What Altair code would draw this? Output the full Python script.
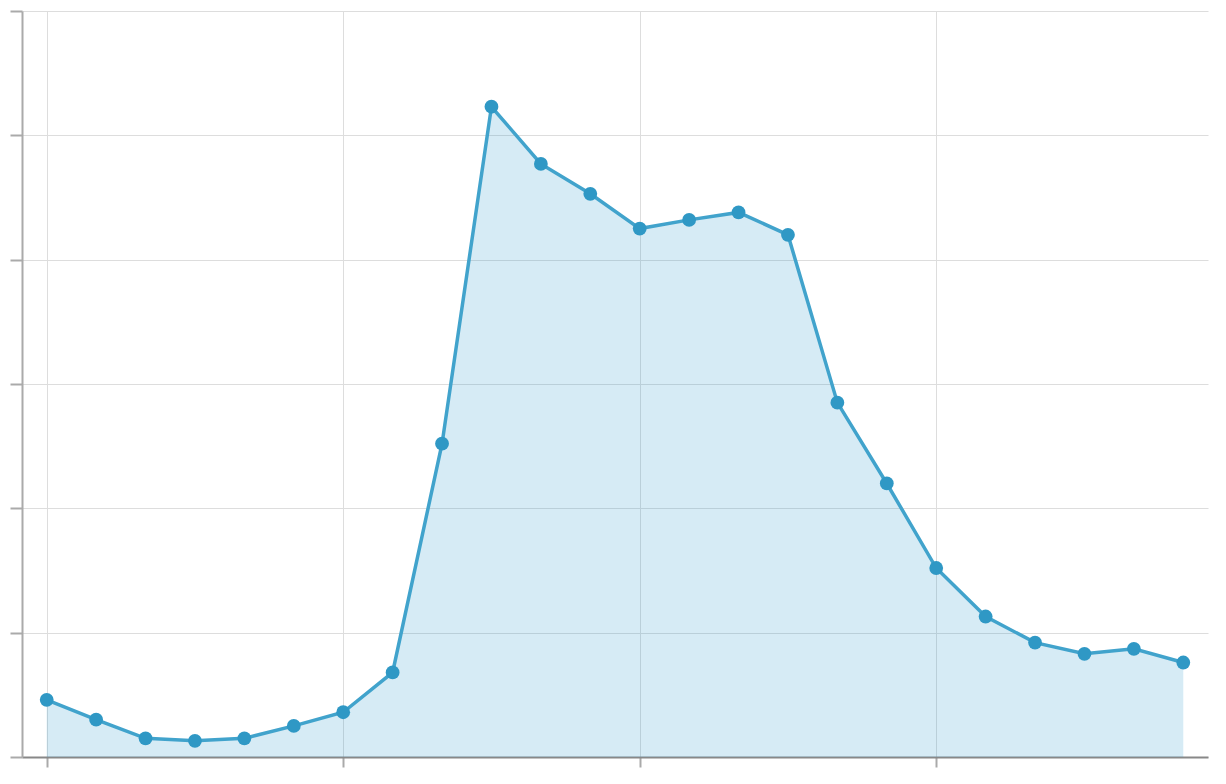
import altair as alt
import pandas as pd

hours = list(range(24))
values = [0.46, 0.30, 0.15, 0.13, 0.15, 0.25, 0.36, 0.68, 2.52, 5.23, 4.77, 4.53,
          4.25, 4.32, 4.38, 4.20, 2.85, 2.20, 1.52, 1.13, 0.92, 0.83, 0.87, 0.76]

df = pd.DataFrame({"hour": hours, "value": values})

x = alt.X("hour:Q", scale=alt.Scale(domain=[-0.5, 23.5], nice=False, zero=False),
          axis=alt.Axis(values=[0, 6, 12, 18], labels=False, title=None, tickSize=10,
                        domainColor="#888", domainWidth=2, tickColor="#aaa", tickWidth=2,
                        gridColor="#ddd", gridWidth=1))
y = alt.Y("value:Q", scale=alt.Scale(domain=[0, 6], nice=False),
          axis=alt.Axis(values=[0, 1, 2, 3, 4, 5, 6], labels=False, title=None, tickSize=12,
                        domainColor="#aaa", domainWidth=2, tickColor="#aaa", tickWidth=2,
                        gridColor="#ddd", gridWidth=1))

base = alt.Chart(df)
area = base.mark_area(color="#3399cc", opacity=0.2).encode(x=x, y=y)
line = base.mark_line(color="#41a3cc", strokeWidth=3.5).encode(x="hour:Q", y="value:Q")
pts = base.mark_circle(color="#2f98c5", opacity=1, size=190).encode(x="hour:Q", y="value:Q")

chart = (area + line + pts).properties(
    width=1186, height=746, padding={"left": 1, "top": 2, "right": 5, "bottom": 5}
).configure_view(stroke=None)

chart.save("out.html", embed_options={"renderer": "svg", "actions": False})
